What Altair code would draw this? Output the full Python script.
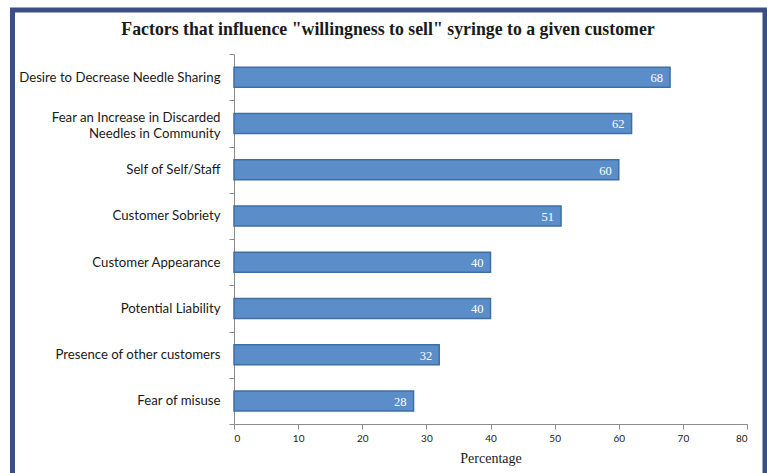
import altair as alt
import pandas as pd

categories = [
    "Desire to Decrease Needle Sharing",
    "Fear an Increase in Discarded|Needles in Community",
    "Self of Self/Staff",
    "Customer Sobriety",
    "Customer Appearance",
    "Potential Liability",
    "Presence of other customers",
    "Fear of misuse",
]
values = [68, 62, 60, 51, 40, 40, 32, 28]
x_ticks = [0, 10, 20, 30, 40, 50, 60, 70, 80]
title_text = 'Factors that influence "willingness to sell" syringe to a given customer'

df = pd.DataFrame({"factor": categories, "pct": values})

PLOT_LEFT, PLOT_TOP = 234, 54
W, H = 513, 370

y_enc = alt.Y(
    "factor:N",
    sort=categories,
    scale=alt.Scale(paddingInner=0, paddingOuter=0),
    axis=alt.Axis(
        title=None,
        tickBand="extent",
        tickSize=5,
        labelPadding=9,
        labelFont="Lato",
        labelFontSize=13.2,
        labelColor="#1a1a1a",
        labelExpr="split(datum.label, '|')",
        labelLineHeight=16,
        labelOffset={"condition": {"test": "indexof(datum.label, '|') >= 0", "value": -6}, "value": 0},
        domainColor="#8c8c8c",
        tickColor="#8c8c8c",
        labelLimit=300,
    ),
)

x_enc = alt.X(
    "pct:Q",
    scale=alt.Scale(domain=[0, 80], nice=False),
    axis=alt.Axis(
        title="Percentage",
        values=x_ticks,
        grid=False,
        tickSize=5,
        labelFont="Lato",
        labelFontSize=10,
        labelColor="#1a1a1a",
        labelPadding=4,
        titleFont="Liberation Serif",
        titleFontSize=14,
        titleFontWeight="normal",
        titleColor="#1a1a1a",
        titlePadding=8,
        domainColor="#8c8c8c",
        tickColor="#8c8c8c",
    ),
)

bars = alt.Chart(df).mark_bar(
    size=20, color="#5b8ec8", stroke="#3f6ea5", strokeWidth=1.5
).encode(x=x_enc, y=y_enc)

labels = alt.Chart(df).mark_text(
    align="right", baseline="middle", dx=-7, dy=1, color="white",
    font="Liberation Serif", fontSize=12.5
).encode(x="pct:Q", y=alt.Y("factor:N", sort=categories), text="pct:Q")

frame = alt.Chart(alt.Data(values=[{}])).mark_rect(
    fill=None, stroke="#3d4f82", strokeWidth=5
).encode(
    x=alt.value(10 - PLOT_LEFT + 2.5),
    x2=alt.value(767 - PLOT_LEFT - 2),
    y=alt.value(8 - PLOT_TOP + 2),
    y2=alt.value(473 - PLOT_TOP + 30),
)

title = alt.Chart(alt.Data(values=[{"t": title_text}])).mark_text(
    font="Liberation Serif", fontSize=17.8, fontWeight="bold", color="#1a1a1a",
    align="center", baseline="middle"
).encode(
    x=alt.value(388 - PLOT_LEFT),
    y=alt.value(30 - PLOT_TOP),
    text="t:N",
)

chart = alt.layer(bars, labels, frame, title).properties(
    width=W,
    height=H,
    autosize=alt.AutoSizeParams(type="none"),
    padding={"left": PLOT_LEFT, "top": PLOT_TOP, "right": 767 - PLOT_LEFT - W, "bottom": 473 - PLOT_TOP - H},
    background="white",
).configure_view(stroke=None)

chart.save("out.html", embed_options={"renderer": "svg", "actions": False})
